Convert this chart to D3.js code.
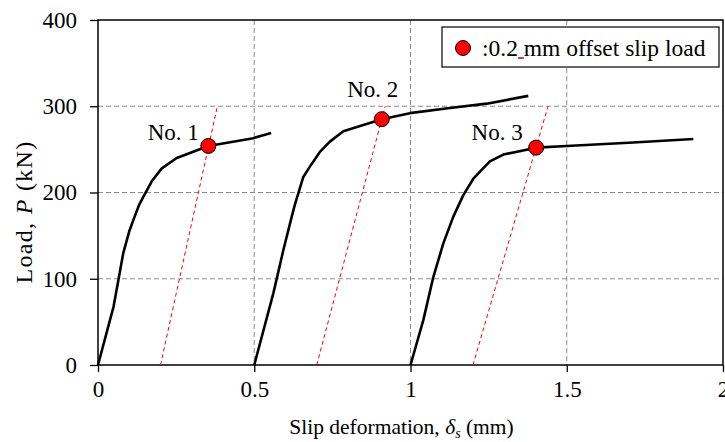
<!DOCTYPE html>
<html>
<head>
<meta charset="utf-8">
<script src="https://cdn.jsdelivr.net/npm/d3@7"></script>
<style>
  body { margin: 0; background: #fff; }
  svg text { font-family: "Liberation Serif", "Times New Roman", serif; fill: #000; }
</style>
</head>
<body>
<svg id="chart" width="725" height="442"></svg>
<script>
// slip (mm) and load (kN)
var s1x = [0, 0.05, 0.081, 0.1, 0.113, 0.132, 0.145, 0.172, 0.204, 0.252, 0.353, 0.497, 0.554];
var s1y = [0, 68, 130, 155, 168, 186, 195, 213, 228, 240, 254, 263, 269];
var s2x = [0.5, 0.561, 0.593, 0.62, 0.63, 0.657, 0.678, 0.71, 0.742, 0.785, 0.908, 0.998, 1.126, 1.244, 1.377];
var s2y = [0, 83, 133, 172, 186, 218, 230, 247, 259, 271, 285, 292, 298, 303, 312];
var s3x = [1.0, 1.041, 1.073, 1.105, 1.137, 1.169, 1.201, 1.254, 1.297, 1.402, 1.5, 1.713, 1.905];
var s3y = [0, 52, 102, 141, 172, 197, 216, 236, 244, 252, 254, 258, 262];

// 0.2 mm offset lines and the slip loads they give
var specimens = ["No. 1", "No. 2", "No. 3"];
var offsetStart = [0.2, 0.7, 1.2];
var offsetTopX = [0.382, 0.919, 1.44];
var offsetTopY = 300;
var slipX = [0.353, 0.908, 1.402];
var slipY = [254, 285, 252];

var xTicks = [0, 0.5, 1, 1.5, 2];
var yTicks = [0, 100, 200, 300, 400];

var margin = {top: 20, right: 2, bottom: 77, left: 98},
  width = 725 - margin.left - margin.right,
  height = 442 - margin.top - margin.bottom;

var x = d3.scaleLinear().domain([0, 2]).range([0, width]);
var y = d3.scaleLinear().domain([0, 400]).range([height, 0]);

var svg = d3.select('#chart')
  .append('g')
  .attr('transform', 'translate(' + margin.left + ',' + margin.top + ')');

// grid
svg.append('g').selectAll('line')
  .data(xTicks.slice(1, -1))
  .enter().append('line')
  .attr('x1', function (d) { return x(d); })
  .attr('x2', function (d) { return x(d); })
  .attr('y1', 0).attr('y2', height)
  .attr('stroke', '#8a8a8a').attr('stroke-dasharray', '5,3');
svg.append('g').selectAll('line')
  .data(yTicks.slice(1, -1))
  .enter().append('line')
  .attr('y1', function (d) { return y(d); })
  .attr('y2', function (d) { return y(d); })
  .attr('x1', 0).attr('x2', width)
  .attr('stroke', '#8a8a8a').attr('stroke-dasharray', '5,3');

// axes
var fmt = d3.format('');
var xAxis = svg.append('g')
  .attr('transform', 'translate(0,' + height + ')')
  .call(d3.axisBottom(x).tickValues(xTicks).tickSize(7).tickPadding(9).tickFormat(fmt));
var yAxis = svg.append('g')
  .call(d3.axisLeft(y).tickValues(yTicks).tickSize(8).tickPadding(13).tickFormat(fmt));
[xAxis, yAxis].forEach(function (a) {
  a.select('.domain').remove();
  a.selectAll('.tick line').attr('stroke', '#000').attr('stroke-width', 1.3);
  a.selectAll('.tick text').style('font-size', '23px');
});

svg.append('rect')
  .attr('width', width).attr('height', height)
  .attr('fill', 'none').attr('stroke', '#000').attr('stroke-width', 1.5);

// offset lines
svg.append('g').selectAll('line')
  .data(offsetStart)
  .enter().append('line')
  .attr('x1', function (d) { return x(d); })
  .attr('y1', y(0))
  .attr('x2', function (d, i) { return x(offsetTopX[i]); })
  .attr('y2', y(offsetTopY))
  .attr('stroke', '#ff0000').attr('stroke-width', 1)
  .attr('stroke-dasharray', '4,3');

// curves
var line = d3.line()
  .x(function (d) { return x(d[0]); })
  .y(function (d) { return y(d[1]); });
[[s1x, s1y], [s2x, s2y], [s3x, s3y]].forEach(function (s) {
  svg.append('path')
    .datum(d3.zip(s[0], s[1]))
    .attr('d', line)
    .attr('fill', 'none').attr('stroke', '#000')
    .attr('stroke-width', 2.6).attr('stroke-linejoin', 'round');
});

// slip load points
svg.append('g').selectAll('circle')
  .data(slipX)
  .enter().append('circle')
  .attr('cx', function (d) { return x(d); })
  .attr('cy', function (d, i) { return y(slipY[i]); })
  .attr('r', 7.5)
  .attr('fill', '#ff0000').attr('stroke', '#000').attr('stroke-width', 1);

// specimen labels, placed relative to their points
var labelDx = [-35, -9, -39];
var labelDy = [-6, -22, -8];
svg.append('g').selectAll('text')
  .data(specimens)
  .enter().append('text')
  .attr('x', function (d, i) { return x(slipX[i]) + labelDx[i]; })
  .attr('y', function (d, i) { return y(slipY[i]) + labelDy[i]; })
  .attr('text-anchor', 'middle')
  .style('font-size', '23px')
  .text(function (d) { return d; });

// axis titles
var xTitle = d3.select('#chart').append('text')
  .attr('x', margin.left + width / 2 - 9)
  .attr('y', 434)
  .attr('text-anchor', 'middle')
  .style('font-size', '21.5px');
xTitle.append('tspan').text('Slip deformation, ');
xTitle.append('tspan').style('font-style', 'italic').text('δ');
xTitle.append('tspan').style('font-style', 'italic').style('font-size', '14px').attr('dy', 4).text('s');
xTitle.append('tspan').attr('dy', -4).text(' (mm)');

var yTitle = d3.select('#chart').append('text')
  .attr('transform', 'translate(32,212) rotate(-90)')
  .attr('text-anchor', 'middle')
  .style('font-size', '24px')
  .style('letter-spacing', '1.3px');
yTitle.append('tspan').text('Load, ');
yTitle.append('tspan').style('font-style', 'italic').text('P');
yTitle.append('tspan').text(' (kN)');

// legend
var legend = d3.select('#chart').append('g').attr('transform', 'translate(442,27)');
legend.append('rect')
  .attr('width', 277).attr('height', 40)
  .attr('fill', '#fff').attr('stroke', '#000').attr('stroke-width', 1.2);
legend.append('circle')
  .attr('cx', 21).attr('cy', 21).attr('r', 7.5)
  .attr('fill', '#ff0000').attr('stroke', '#000').attr('stroke-width', 1);
var legendText = legend.append('text')
  .attr('x', 40).attr('y', 29)
  .style('font-size', '23.5px')
  .text(':0.2 mm offset slip load');
// little red mark under the space after "0.2"
var tn = legendText.node();
var u0 = tn.getSubStringLength(0, 4), u1 = tn.getSubStringLength(0, 5);
legend.append('line')
  .attr('x1', 40 + u0).attr('x2', 40 + u1)
  .attr('y1', 31).attr('y2', 31)
  .attr('stroke', '#b00020').attr('stroke-width', 1.5);
</script>
</body>
</html>
